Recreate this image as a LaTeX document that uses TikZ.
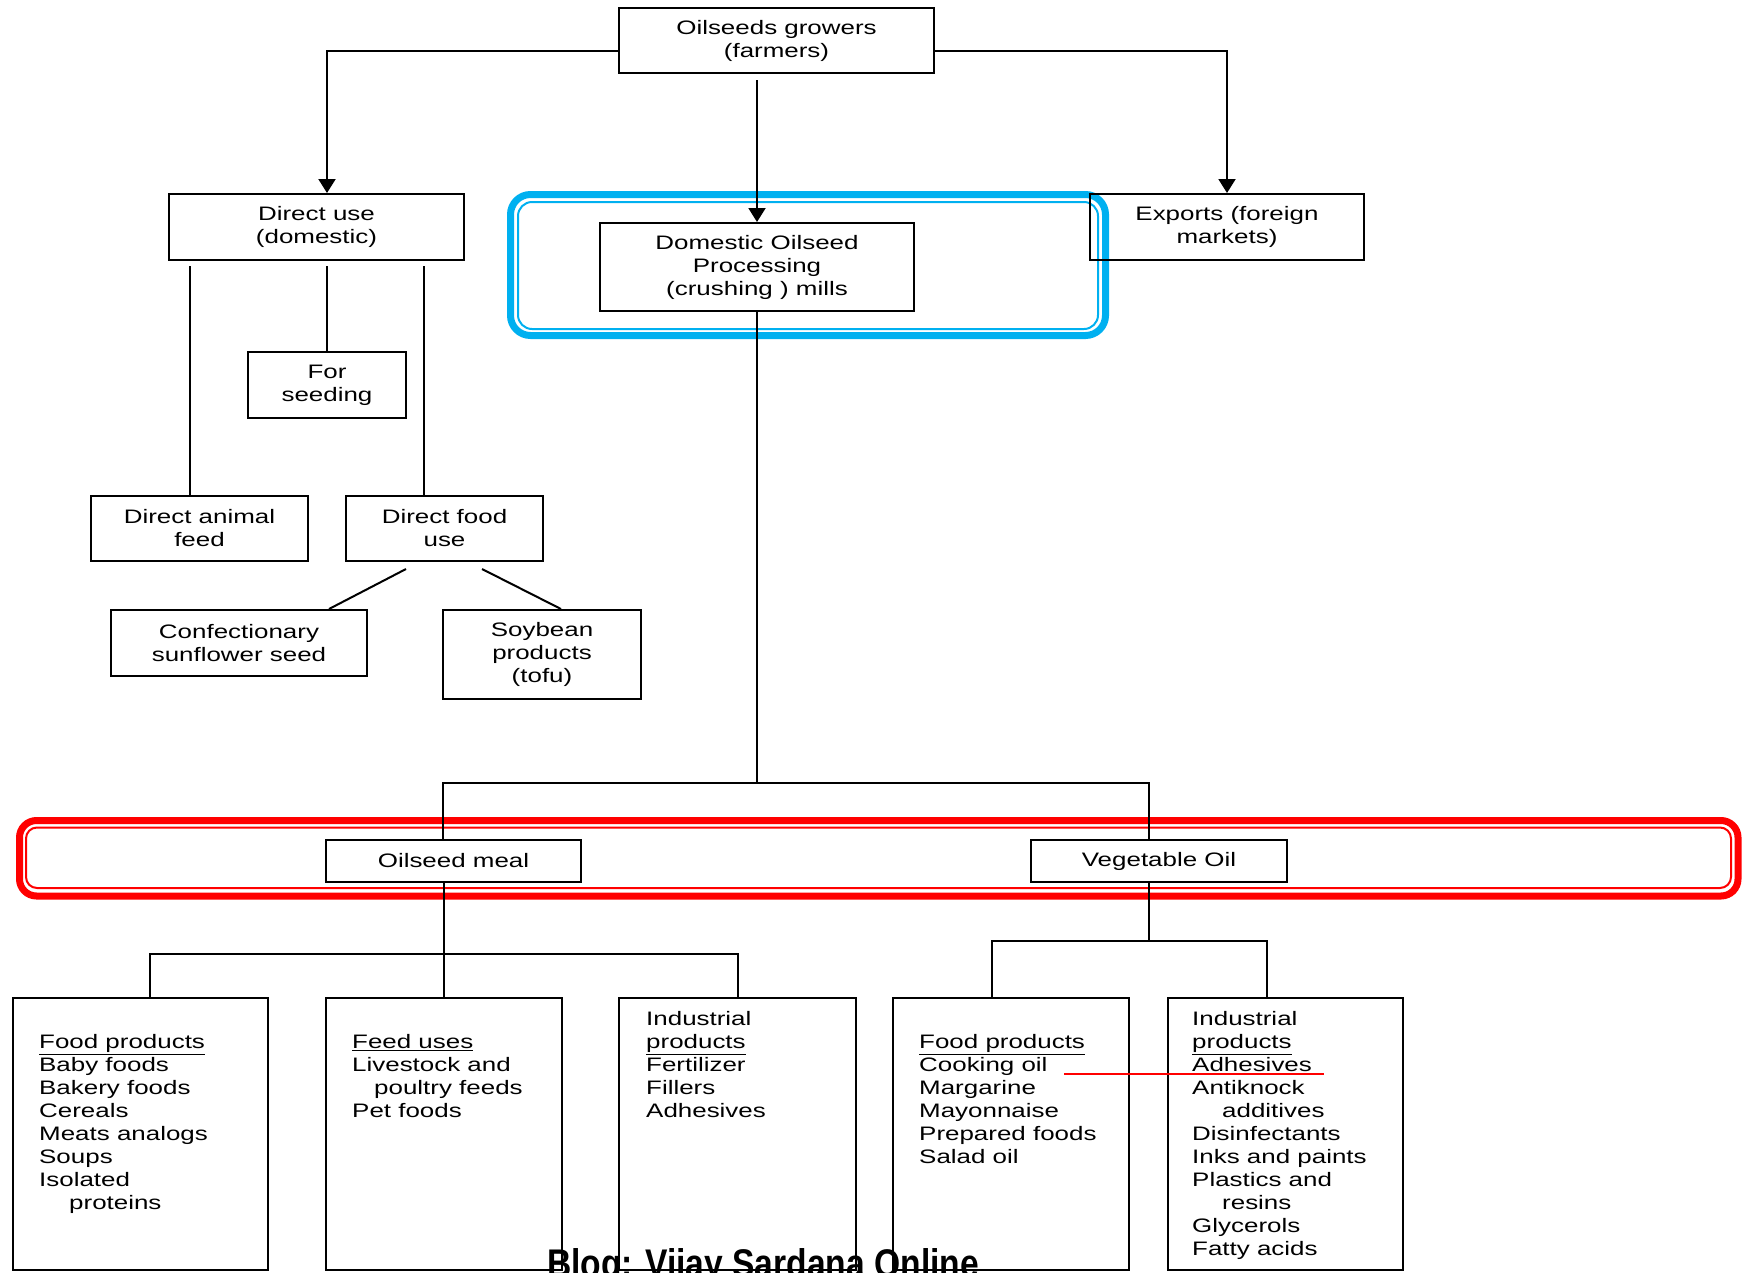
\documentclass[tikz,border=0pt]{standalone}
\usepackage{fontspec}
\setmainfont{Liberation Sans}[FakeStretch=1.33]
\newfontfamily\blogfont{Liberation Sans}[FakeStretch=0.84]
\usepackage{xcolor}
\usepackage{tikz}
\usetikzlibrary{arrows.meta, positioning, calc}
\definecolor{hlblue}{HTML}{00B0F0}
\definecolor{hlred}{HTML}{FF0000}
\newcommand{\boxfont}{\fontsize{19.5}{23}\selectfont}
\tikzset{
  blk/.style={rectangle, draw=black, line width=2pt, align=center, font=\boxfont, inner sep=0pt},
  tall/.style={blk, minimum height=272pt},
  lst/.style={anchor=north west, align=left, font=\boxfont, inner sep=0pt},
  ln/.style={line width=2pt, draw=black},
  arr/.style={ln, -{Triangle[width=17pt, length=14pt]}},
  hlouter/.style={line width=7pt},
  hlinner/.style={line width=2pt},
}

\begin{document}
\begin{tikzpicture}[x=1pt, y=-1pt]
  \useasboundingbox (0,0) rectangle (1742,1272);
  \clip (0,0) rectangle (1742,1272);

  % highlights
  \draw[hlouter, hlblue, rounded corners=20pt] (510.5,194.5) rectangle (1105.5,335.5);
  \draw[hlinner, hlblue, rounded corners=14pt] (518,202) rectangle (1098,329);
  \draw[hlouter, hlred, rounded corners=17pt] (19.5,820.5) rectangle (1738,896);
  \draw[hlinner, hlred, rounded corners=11pt] (26,827.5) rectangle (1731,888);

  \node[blk, minimum width=315pt, minimum height=65pt] (grow) at (776.5,40.5) {Oilseeds growers\\(farmers)};
  \node[blk, minimum width=295pt, minimum height=66pt] (direct) at (316.5,227) {Direct use\\(domestic)};
  \node[blk, minimum width=314pt, minimum height=88pt] (proc) at (757,267) {Domestic Oilseed\\Processing\\(crushing ) mills};
  \node[blk, minimum width=274pt, minimum height=66pt] (exports) at (1227,227) {Exports (foreign\\markets)};
  \node[blk, minimum width=158pt, minimum height=66pt] (seeding) at (327,385) {For\\seeding};
  \node[blk, minimum width=217pt, minimum height=65pt] (animal) at (199.5,528.5) {Direct animal\\feed};
  \node[blk, minimum width=197pt, minimum height=65pt] (food) at (444.5,528.5) {Direct food\\use};
  \node[blk, minimum width=256pt, minimum height=66pt] (confect) at (239,643) {Confectionary\\sunflower seed};
  \node[blk, minimum width=198pt, minimum height=89pt] (soy) at (542,654.5) {Soybean\\products\\(tofu)};
  \node[blk, minimum width=255pt, minimum height=42pt] (meal) at (453.5,861) {Oilseed meal};
  \node[blk, minimum width=256pt, minimum height=42pt] (vegoil) at (1159,861) {Vegetable Oil};

  \node[tall, minimum width=255pt] (fdmeal) at (140.5,1134) {};
  \node[tall, minimum width=236pt] (feedmeal) at (444,1134) {};
  \node[tall, minimum width=237pt] (indmeal) at (737.5,1134) {};
  \node[tall, minimum width=236pt] (fdoil) at (1011,1134) {};
  \node[tall, minimum width=235pt] (indoil) at (1285.5,1134) {};

  \node[lst] (fdmeallst) at ([shift={(27,37)}]fdmeal.north west) {\underline{Food products}\\Baby foods\\Bakery foods\\Cereals\\Meats analogs\\Soups\\Isolated\\\hspace*{30pt}proteins};
  \node[lst] (feedmeallst) at ([shift={(27,37)}]feedmeal.north west) {\underline{Feed uses}\\Livestock and\\\hspace*{22pt}poultry feeds\\Pet foods};
  \node[lst] (indmeallst) at ([shift={(28,14)}]indmeal.north west) {Industrial\\\underline{products}\\Fertilizer\\Fillers\\Adhesives};
  \node[lst] (fdoillst) at ([shift={(27,37)}]fdoil.north west) {\underline{Food products}\\Cooking oil\\Margarine\\Mayonnaise\\Prepared foods\\Salad oil};
  \node[lst] (indoillst) at ([shift={(25,14)}]indoil.north west) {Industrial\\\underline{products}\\Adhesives\\Antiknock\\\hspace*{30pt}additives\\Disinfectants\\Inks and paints\\Plastics and\\\hspace*{30pt}resins\\Glycerols\\Fatty acids};

  \draw[arr] ([yshift=-10.5pt]grow.west) -| ([xshift=10.5pt]direct.north);
  \draw[arr] ([yshift=-10.5pt]grow.east) -| (exports.north);
  \draw[arr, shorten <=6pt] (grow.south -| proc.north) -- (proc.north);

  \draw[ln, shorten <=5pt] ([xshift=-9.5pt]animal.north |- direct.south) -- ([xshift=-9.5pt]animal.north);
  \draw[ln, shorten <=5pt] (direct.south -| seeding.north) -- (seeding.north);
  \draw[ln, shorten <=5pt] ([xshift=-20.5pt]food.north |- direct.south) -- ([xshift=-20.5pt]food.north);
  \draw[ln] ([shift={(-38.5,7)}]food.south) -- ([xshift=90pt]confect.north);
  \draw[ln] ([shift={(37.5,7)}]food.south) -- ([xshift=19pt]soy.north);

  \coordinate (fork) at (757,783);
  \draw[ln] (proc.south) -- (fork);
  \draw[ln] (fork) -| ([xshift=-10.5pt]meal.north);
  \draw[ln] (fork) -| ([xshift=-10pt]vegoil.north);

  \coordinate (mbar) at (444,954);
  \draw[ln] (feedmeal.north |- meal.south) -- (feedmeal.north);
  \draw[ln] ([xshift=9.5pt]fdmeal.north) |- (mbar) -| (indmeal.north);

  \coordinate (vbar) at (1149,941);
  \draw[ln] ([xshift=-10pt]vegoil.south) -- (vbar);
  \draw[ln] ([xshift=-19pt]fdoil.north) |- (vbar) -| ([xshift=-18.5pt]indoil.north);

  \draw[hlred, line width=2.5pt] (1064,1074) -- (1324,1074);

  \node[anchor=base, inner sep=0pt, font=\blogfont\bfseries\fontsize{40}{40}\selectfont] (blog) at (763,1277) {Blog: Vijay Sardana Online};
\end{tikzpicture}
\end{document}
